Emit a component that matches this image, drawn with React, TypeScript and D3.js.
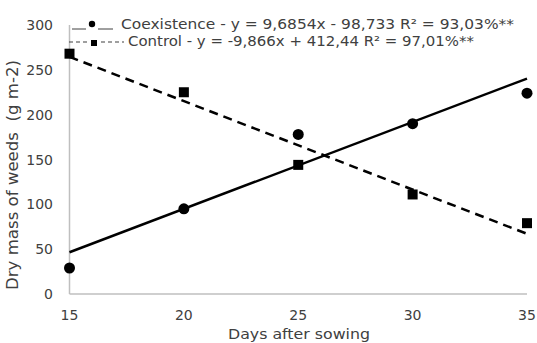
import React from 'react';
import * as d3 from 'd3';

const days = [15, 20, 25, 30, 35];
const coexistence = [29, 95, 178, 190, 224];
const control = [268, 225, 144, 111, 79];
const yTicks = [0, 50, 100, 150, 200, 250, 300];
const coexFit = { a: 9.6854, b: -98.733 };
const controlFit = { a: -9.866, b: 412.44 };

const W = 537;
const H = 343;
const FONT = "'DejaVu Sans', sans-serif";

export default function App() {
  const x = d3.scaleLinear().domain([15, 35]).range([69.5, 527]);
  const y = d3.scaleLinear().domain([0, 300]).range([294, 25]);

  const fitLine = (fit: { a: number; b: number }) =>
    d3.line<number>()
      .x((d) => x(d))
      .y((d) => y(fit.a * d + fit.b))([15, 35]) as string;

  const axisColor = '#bfbfbf';
  const textColor = '#404040';

  return (
    <svg width={W} height={H} style={{ position: 'fixed', left: 0, top: 0 }}>
      <rect width={W} height={H} fill="#fff" />
      {/* axes */}
      <line x1={x(15)} x2={x(15)} y1={y(300)} y2={y(0)} stroke={axisColor} strokeWidth={1.5} />
      <line x1={x(15)} x2={x(35)} y1={y(0)} y2={y(0)} stroke={axisColor} strokeWidth={1.5} />

      {yTicks.map((t) => (
        <text key={t} x={53} y={y(t)} dy="0.36em" textAnchor="end" fontFamily={FONT} fontSize={14} fill={textColor}>
          {t}
        </text>
      ))}
      {days.map((d) => (
        <text key={d} x={x(d)} y={320} textAnchor="middle" fontFamily={FONT} fontSize={14} fill={textColor}>
          {d}
        </text>
      ))}

      <text x={228} y={339} textLength={142} lengthAdjust="spacingAndGlyphs" fontFamily={FONT} fontSize={14.5} fill={textColor}>
        Days after sowing
      </text>
      <text
        transform="translate(18,290) rotate(-90)"
        textLength={230}
        lengthAdjust="spacingAndGlyphs"
        fontFamily={FONT}
        fontSize={15}
        fill={textColor}
      >
        Dry mass of weeds&#160;&#160;(g m-2)
      </text>

      {/* fitted lines */}
      <path d={fitLine(coexFit)} fill="none" stroke="#000" strokeWidth={2.5} />
      <path d={fitLine(controlFit)} fill="none" stroke="#000" strokeWidth={2.5} strokeDasharray="9,6" />

      {/* points */}
      {coexistence.map((v, i) => (
        <circle key={'c' + i} cx={x(days[i])} cy={y(v)} r={5.5} fill="#000" />
      ))}
      {control.map((v, i) => (
        <rect key={'s' + i} x={x(days[i]) - 5} y={y(v) - 5} width={10} height={10} fill="#000" />
      ))}

      {/* legend */}
      <line x1={72} x2={86} y1={29} y2={29} stroke={textColor} strokeWidth={1} />
      <circle cx={92} cy={24} r={3.2} fill="#000" />
      <line x1={98} x2={113} y1={29} y2={29} stroke={textColor} strokeWidth={1} />
      <text x={121} y={29} textLength={393} lengthAdjust="spacingAndGlyphs" fontFamily={FONT} fontSize={14.5} fill={textColor}>
        Coexistence - y = 9,6854x - 98,733 R² = 93,03%**
      </text>
      <line x1={69} x2={87} y1={42} y2={42} stroke={textColor} strokeWidth={1.2} strokeDasharray="4,3" />
      <rect x={91} y={40} width={6} height={6} fill="#000" />
      <line x1={101} x2={124} y1={42} y2={42} stroke={textColor} strokeWidth={1.2} strokeDasharray="4,3" />
      <text x={128} y={46} textLength={346} lengthAdjust="spacingAndGlyphs" fontFamily={FONT} fontSize={14.5} fill={textColor}>
        Control - y = -9,866x + 412,44 R² = 97,01%**
      </text>
    </svg>
  );
}
